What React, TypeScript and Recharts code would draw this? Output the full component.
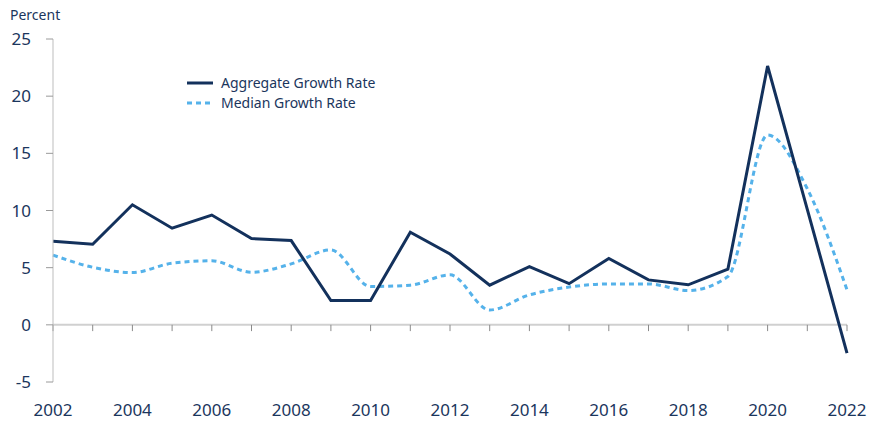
import React from "react";
import { LineChart, Line, XAxis, YAxis, ReferenceLine } from "recharts";

const years = [2002, 2003, 2004, 2005, 2006, 2007, 2008, 2009, 2010, 2011, 2012, 2013, 2014, 2015, 2016, 2017, 2018, 2019, 2020, 2021, 2022];
const aggregateGrowth = [7.3, 7.05, 10.5, 8.45, 9.6, 7.55, 7.37, 2.13, 2.13, 8.1, 6.2, 3.47, 5.1, 3.6, 5.8, 3.93, 3.5, 4.87, 22.64, 10.1, -2.47];
const medianGrowth = [6.1, 5.04, 4.57, 5.39, 5.6, 4.6, 5.33, 6.55, 3.35, 3.47, 4.37, 1.3, 2.62, 3.3, 3.58, 3.58, 3.0, 4.22, 16.6, 11.9, 3.06];
const xTicks = [2002, 2004, 2006, 2008, 2010, 2012, 2014, 2016, 2018, 2020, 2022];
const yTicks = [-5, 0, 5, 10, 15, 20, 25];
const seriesNames = ["Aggregate Growth Rate", "Median Growth Rate"];

const data = years.map((y, i) => ({ year: y, aggregate: aggregateGrowth[i], median: medianGrowth[i] }));

const NAVY = "#13315c";
const LIGHT = "#55b2ea";
const TEXT = "#1b365d";
const FONT = "'Noto Sans', sans-serif";

export default function App() {
  return (
    <div style={{ position: "absolute", left: 0, top: 0, width: 877, height: 421, background: "#fff" }}>
      <div style={{ position: "absolute", left: 10, top: 5, fontFamily: FONT, fontSize: 14, color: TEXT }}>Percent</div>
      <div style={{ position: "absolute", left: 187, top: 73, fontFamily: FONT, fontSize: 14, color: TEXT, lineHeight: "20px", zIndex: 2 }}>
        <div style={{ display: "flex", alignItems: "center" }}>
          <svg width={34} height={20}>
            <line x1={0} x2={26} y1={10} y2={10} stroke={NAVY} strokeWidth={3} />
          </svg>
          <span>{seriesNames[0]}</span>
        </div>
        <div style={{ display: "flex", alignItems: "center" }}>
          <svg width={34} height={20}>
            <line x1={0} x2={26} y1={10} y2={10} stroke={LIGHT} strokeWidth={3} strokeDasharray="5 4" />
          </svg>
          <span>{seriesNames[1]}</span>
        </div>
      </div>
      <LineChart width={877} height={421} data={data} margin={{ top: 39, right: 30, bottom: 9, left: 0 }}>
        <XAxis
          dataKey="year"
          type="number"
          domain={[2002, 2022]}
          ticks={xTicks}
          axisLine={false}
          tickLine={false}
          tickSize={0}
          tickMargin={22}
          height={30}
          interval={0}
          tick={{ fill: TEXT, fontSize: 17, fontFamily: FONT }}
        />
        <YAxis
          type="number"
          domain={[-5, 25]}
          ticks={yTicks}
          width={53}
          axisLine={{ stroke: "#bdbdbd", strokeWidth: 1 }}
          tickLine={{ stroke: "#9a9a9a" }}
          tickSize={7}
          tickMargin={15}
          interval={0}
          tick={{ fill: TEXT, fontSize: 17, fontFamily: FONT }}
        />
        <ReferenceLine y={0} stroke="#d0d0d0" strokeWidth={2} />
        {years.map((y) => (
          <ReferenceLine
            key={y}
            segment={[{ x: y, y: 0 }, { x: y, y: -0.55 }]}
            stroke="#8a8a8a"
            strokeWidth={1}
          />
        ))}
        <Line
          dataKey="median"
          name={seriesNames[1]}
          type="monotone"
          stroke={LIGHT}
          strokeWidth={3}
          strokeDasharray="5 4"
          dot={false}
          activeDot={false}
          isAnimationActive={false}
        />
        <Line
          dataKey="aggregate"
          name={seriesNames[0]}
          type="linear"
          stroke={NAVY}
          strokeWidth={3}
          dot={false}
          activeDot={false}
          isAnimationActive={false}
        />
      </LineChart>
    </div>
  );
}
